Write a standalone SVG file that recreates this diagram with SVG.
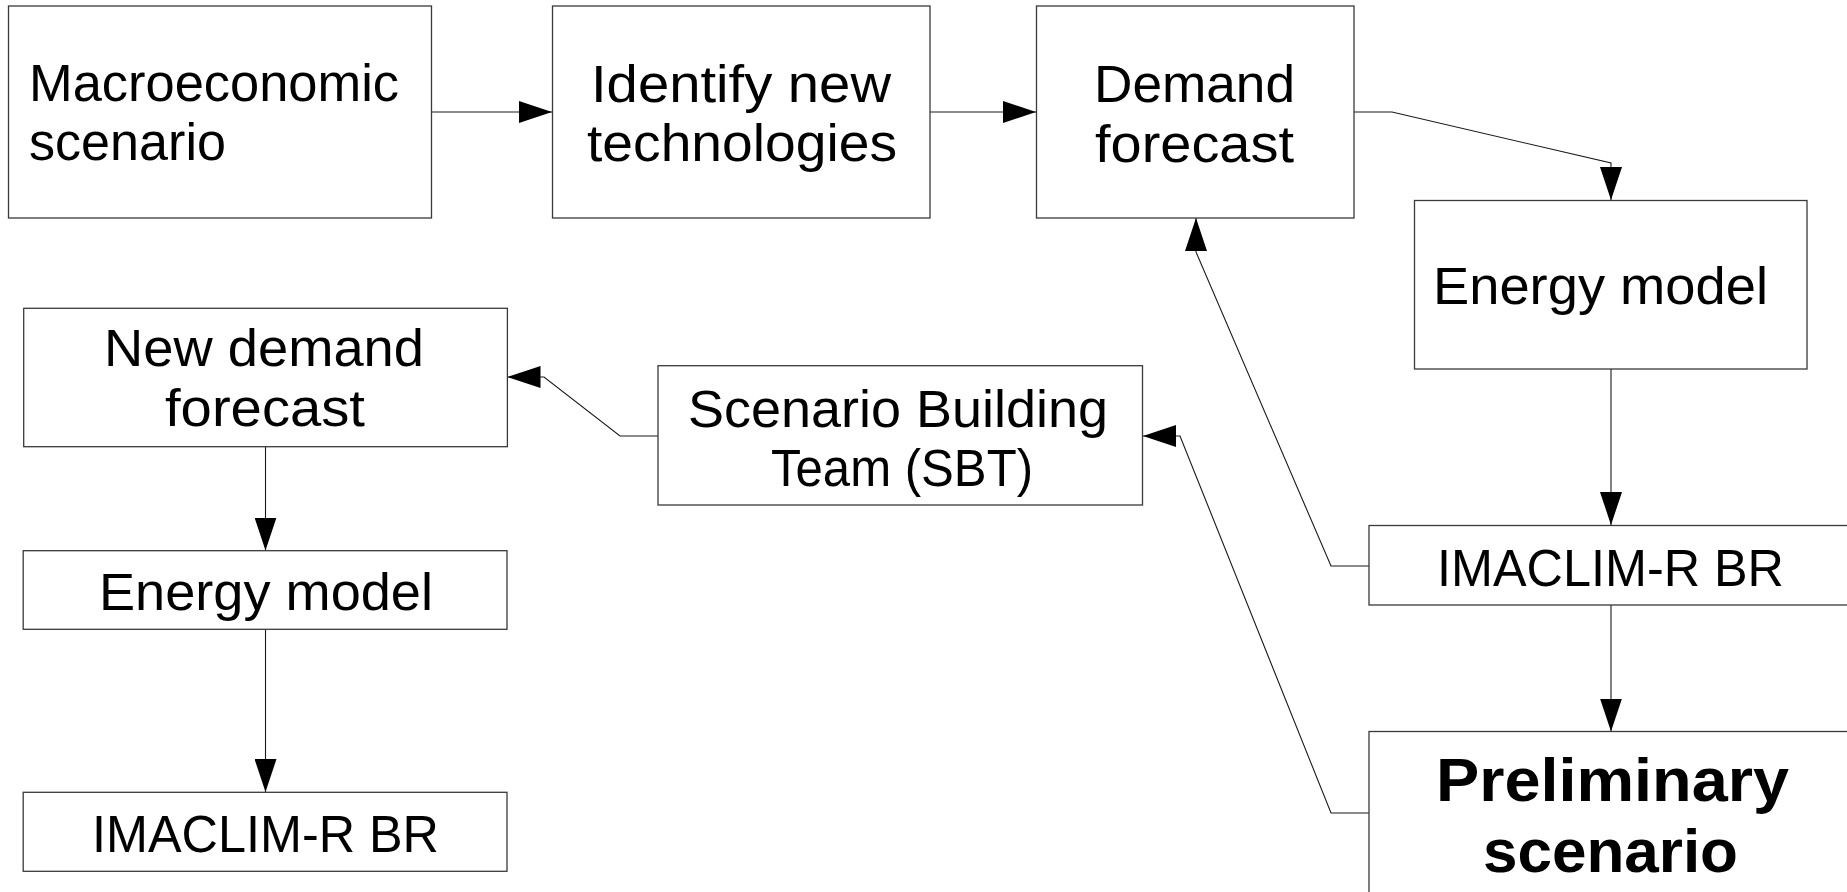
<svg xmlns="http://www.w3.org/2000/svg" width="1847" height="892" viewBox="0 0 1847 892">
  <style>
    .box { fill: #ffffff; stroke: #3a3a3a; stroke-width: 1.3; }
    .lbl { font-family: "Liberation Sans", Arial, sans-serif; font-size: 51px; fill: #000000; }
    .bold { font-size: 61px; font-weight: bold; }
    .wire { fill: none; stroke: #1a1a1a; stroke-width: 1.1; marker-end: url(#head); }
  </style>
  <defs>
    <marker id="head" markerUnits="userSpaceOnUse" markerWidth="34" markerHeight="22" refX="33" refY="11" orient="auto" viewBox="0 0 34 22">
      <path d="M0,0 L33,11 L0,22 z" fill="#000000"/>
    </marker>
  </defs>
  <rect width="1847" height="892" fill="#ffffff"/>

  <!-- connectors -->
  <g id="connectors">
    <path class="wire" d="M431,112 L552,112"/>
    <path class="wire" d="M930,112 L1036,112"/>
    <path class="wire" d="M1354,112 L1392,112 L1611,163 L1611,200"/>
    <path class="wire" d="M1611,369 L1611,525"/>
    <path class="wire" d="M1611,605 L1611,731.5"/>
    <path class="wire" d="M1369,566 L1331,566 L1196,252 L1196,218"/>
    <path class="wire" d="M1369,813 L1331,813 L1180,436 L1143,436"/>
    <path class="wire" d="M658,436 L620,436 L544,377 L507.5,377"/>
    <path class="wire" d="M265.5,446.5 L265.5,550.5"/>
    <path class="wire" d="M265.5,629.5 L265.5,792"/>
  </g>

  <!-- nodes -->
  <g id="macroeconomic-scenario">
    <rect class="box" x="8.5" y="6" width="423" height="212"/>
    <text class="lbl"><tspan x="29" y="100.7" textLength="370" lengthAdjust="spacingAndGlyphs">Macroeconomic</tspan><tspan x="29" y="160" textLength="197" lengthAdjust="spacingAndGlyphs">scenario</tspan></text>
  </g>

  <g id="identify-new-technologies">
    <rect class="box" x="552.5" y="6" width="377.5" height="212"/>
    <text class="lbl"><tspan x="591" y="101.7" textLength="300" lengthAdjust="spacingAndGlyphs">Identify new</tspan><tspan x="587" y="160.7" textLength="310" lengthAdjust="spacingAndGlyphs">technologies</tspan></text>
  </g>

  <g id="demand-forecast">
    <rect class="box" x="1036.5" y="6" width="317.5" height="212"/>
    <text class="lbl"><tspan x="1094" y="101.7" textLength="201" lengthAdjust="spacingAndGlyphs">Demand</tspan><tspan x="1095" y="161.7" textLength="199" lengthAdjust="spacingAndGlyphs">forecast</tspan></text>
  </g>

  <g id="energy-model-main">
    <rect class="box" x="1414.5" y="200.5" width="392.5" height="168.5"/>
    <text class="lbl" x="1433" y="304" textLength="335" lengthAdjust="spacingAndGlyphs">Energy model</text>
  </g>

  <g id="imaclim-main">
    <rect class="box" x="1369" y="525.5" width="484" height="79.5"/>
    <text class="lbl" x="1437" y="585.7" textLength="347" lengthAdjust="spacingAndGlyphs">IMACLIM-R BR</text>
  </g>

  <g id="preliminary-scenario">
    <rect class="box" x="1369" y="731.5" width="484" height="200"/>
    <text class="lbl bold"><tspan x="1436" y="800.7" textLength="353" lengthAdjust="spacingAndGlyphs">Preliminary</tspan><tspan x="1483" y="871.7" textLength="255" lengthAdjust="spacingAndGlyphs">scenario</tspan></text>
  </g>

  <g id="scenario-building-team">
    <rect class="box" x="658" y="365.7" width="484.5" height="139.3"/>
    <text class="lbl"><tspan x="688" y="426.7" textLength="420" lengthAdjust="spacingAndGlyphs">Scenario Building</tspan><tspan x="771" y="486" textLength="262" lengthAdjust="spacingAndGlyphs">Team (SBT)</tspan></text>
  </g>

  <g id="new-demand-forecast">
    <rect class="box" x="23.7" y="308.3" width="483.7" height="138.4"/>
    <text class="lbl"><tspan x="104" y="365.5" textLength="320" lengthAdjust="spacingAndGlyphs">New demand</tspan><tspan x="165" y="425.5" textLength="200" lengthAdjust="spacingAndGlyphs">forecast</tspan></text>
  </g>

  <g id="energy-model-revised">
    <rect class="box" x="23.2" y="550.7" width="483.8" height="78.6"/>
    <text class="lbl" x="99" y="610" textLength="334" lengthAdjust="spacingAndGlyphs">Energy model</text>
  </g>

  <g id="imaclim-revised">
    <rect class="box" x="23.2" y="792.3" width="483.8" height="79"/>
    <text class="lbl" x="92" y="852" textLength="347" lengthAdjust="spacingAndGlyphs">IMACLIM-R BR</text>
  </g>
</svg>
